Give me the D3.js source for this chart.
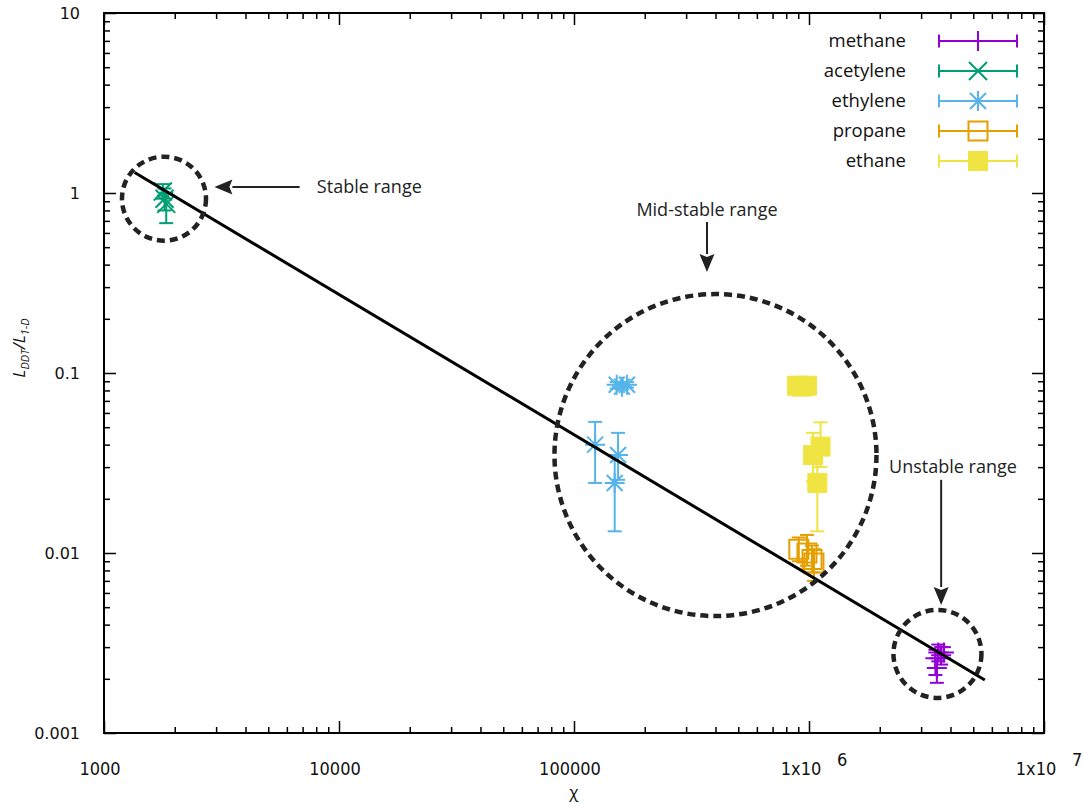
<!DOCTYPE html>
<html>
<head>
<meta charset="utf-8">
<script src="https://cdn.jsdelivr.net/npm/d3@7"></script>
<style>
  body { margin: 0; background: #fff; }
  svg { display: block; }
</style>
</head>
<body>
<div id="vis"></div>
<script>
// Series names and colours (gnuplot default palette)
const seriesNames = ["methane", "acetylene", "ethylene", "propane", "ethane"]
const seriesColors = ["#9400d3", "#009e73", "#56b4e9", "#e69f00", "#f0e442"]
const seriesMarkers = ["plus", "cross", "star", "openSquare", "filledSquare"]

// Values: x = chi, y = L_DDT / L_1-D, lo/hi = error bar ends
const methaneX = [3.45e6, 3.55e6, 3.65e6, 3.75e6, 3.5e6]
const methaneY = [0.0026, 0.0028, 0.0027, 0.0028, 0.0023]
const methaneLo = [0.0021, 0.0025, 0.0024, 0.0026, 0.0019]
const methaneHi = [0.0029, 0.0031, 0.0030, 0.0030, 0.0026]

const acetyleneX = [1780, 1810, 1840]
const acetyleneY = [1.02, 0.93, 0.87]
const acetyleneLo = [0.93, 0.80, 0.68]
const acetyleneHi = [1.12, 1.06, 1.0]

const ethyleneX = [1.52e5, 1.6e5, 1.68e5, 1.23e5, 1.54e5, 1.49e5]
const ethyleneY = [0.086, 0.084, 0.086, 0.040, 0.035, 0.0245]
const ethyleneLo = [0.082, 0.081, 0.083, 0.0245, 0.0255, 0.0132]
const ethyleneHi = [0.089, 0.088, 0.089, 0.0535, 0.0465, 0.035]

const propaneX = [9.05e5, 9.8e5, 1.03e6, 1.05e6]
const propaneY = [0.0105, 0.0100, 0.0092, 0.0088]
const propaneLo = [0.0090, 0.0085, 0.0078, 0.0070]
const propaneHi = [0.0122, 0.0126, 0.0110, 0.0105]

const ethaneX = [8.9e5, 9.3e5, 9.8e5, 1.12e6, 1.04e6, 1.085e6]
const ethaneY = [0.085, 0.084, 0.085, 0.039, 0.035, 0.0245]
const ethaneLo = [0.083, 0.082, 0.083, 0.030, 0.025, 0.0132]
const ethaneHi = [0.087, 0.086, 0.087, 0.0532, 0.0465, 0.035]

// Power-law fit (two end points)
const fitX = [1350, 5.6e6]
const fitY = [1.3, 0.00197]

// Axis ticks
const xTicks = [1e3, 1e4, 1e5, 1e6, 1e7]
const xTickLabels = ["1000", "10000", "100000", "1x10^6", "1x10^7"]
const yTicks = [0.001, 0.01, 0.1, 1, 10]
const yTickLabels = ["0.001", "0.01", "0.1", "1", "10"]

// Annotations (data coords)
const circleX = [1800, 4.0e5, 3.52e6]
const circleY = [0.93, 0.035, 0.00275]
const arrowLabels = ["Stable range", "Mid-stable range", "Unstable range"]

const data = [
    { x: methaneX, y: methaneY, lo: methaneLo, hi: methaneHi },
    { x: acetyleneX, y: acetyleneY, lo: acetyleneLo, hi: acetyleneHi },
    { x: ethyleneX, y: ethyleneY, lo: ethyleneLo, hi: ethyleneHi },
    { x: propaneX, y: propaneY, lo: propaneLo, hi: propaneHi },
    { x: ethaneX, y: ethaneY, lo: ethaneLo, hi: ethaneHi },
].map((s, i) => ({
    name: seriesNames[i],
    color: seriesColors[i],
    marker: seriesMarkers[i],
    points: s.x.map((x, j) => ({ x: x, y: s.y[j], lo: s.lo[j], hi: s.hi[j] }))
}))

const WIDTH = 1083, HEIGHT = 804
const M = { left: 104, right: 1044, top: 13, bottom: 733 }

const SVG = d3.select("#vis")
    .append("svg")
    .attr("width", WIDTH)
    .attr("height", HEIGHT)

const escalaX = d3.scaleLog().domain([1e3, 1e7]).range([M.left, M.right])
const escalaY = d3.scaleLog().domain([1e-3, 10]).range([M.bottom, M.top])

const xMinor = escalaX.ticks().filter(t => !xTicks.includes(t))
const yMinor = escalaY.ticks().filter(t => !yTicks.some(v => Math.abs(v - t) / v < 1e-9))

// Inward ticks on all four sides
function ticks(axisFn, scale, values, size, transform) {
    SVG.append("g")
        .attr("transform", transform)
        .call(axisFn(scale).tickValues(values).tickSize(size).tickFormat(""))
        .call(g => g.select(".domain").remove())
        .call(g => g.selectAll("line").attr("stroke", "#000").attr("stroke-width", 1.5))
}
ticks(d3.axisBottom, escalaX, xTicks, -12, `translate(0,${M.bottom})`)
ticks(d3.axisBottom, escalaX, xMinor, -6, `translate(0,${M.bottom})`)
ticks(d3.axisTop, escalaX, xTicks, -12, `translate(0,${M.top})`)
ticks(d3.axisTop, escalaX, xMinor, -6, `translate(0,${M.top})`)
ticks(d3.axisLeft, escalaY, yTicks, -12, `translate(${M.left},0)`)
ticks(d3.axisLeft, escalaY, yMinor, -6, `translate(${M.left},0)`)
ticks(d3.axisRight, escalaY, yTicks, -12, `translate(${M.right},0)`)
ticks(d3.axisRight, escalaY, yMinor, -6, `translate(${M.right},0)`)

SVG.append("rect")
    .attr("x", M.left).attr("y", M.top)
    .attr("width", M.right - M.left).attr("height", M.bottom - M.top)
    .attr("fill", "none").attr("stroke", "#000").attr("stroke-width", 2)

// X tick labels (with superscript for powers)
const xLab = SVG.append("g")
    .style("font-family", "'DejaVu Sans Condensed', 'DejaVu Sans', sans-serif")
    .style("font-size", "18px")
    .attr("fill", "#111")
xTicks.forEach((t, i) => {
    const parts = xTickLabels[i].split("^")
    if (parts.length === 1) {
        xLab.append("text")
            .attr("x", escalaX(t) - 4).attr("y", 775)
            .attr("text-anchor", "middle")
            .text(parts[0])
    } else {
        xLab.append("text")
            .attr("x", escalaX(t) - 8).attr("y", 775)
            .attr("text-anchor", "middle")
            .text(parts[0])
        xLab.append("text")
            .attr("x", escalaX(t) + 28).attr("y", 766)
            .attr("text-anchor", "start")
            .text(parts[1])
    }
})

// Y tick labels
SVG.append("g")
    .style("font-family", "'DejaVu Sans', sans-serif")
    .style("font-size", "16px")
    .attr("fill", "#111")
    .selectAll("text")
    .data(yTicks)
    .join("text")
    .attr("x", 80)
    .attr("y", d => escalaY(d))
    .attr("dy", "0.35em")
    .attr("text-anchor", "end")
    .text((d, i) => yTickLabels[i])

// Axis titles
SVG.append("text")
    .attr("x", (M.left + M.right) / 2).attr("y", 798)
    .attr("text-anchor", "middle")
    .style("font-family", "'Open Sans', sans-serif")
    .style("font-size", "17px")
    .attr("fill", "#111")
    .text("χ")

const yTitle = SVG.append("text")
    .attr("transform", "translate(25,348) rotate(-90)")
    .attr("text-anchor", "middle")
    .style("font-family", "'Open Sans', sans-serif")
    .style("font-style", "italic")
    .style("font-size", "17px")
    .attr("fill", "#111")
yTitle.append("tspan").text("L")
yTitle.append("tspan").attr("dy", 4).style("font-size", "11px").text("DDT")
yTitle.append("tspan").attr("dy", -4).text("/L")
yTitle.append("tspan").attr("dy", 4).style("font-size", "11px").text("1-D")

// Marker shapes
function markerPath(type) {
    if (type === "plus") return "M-10,0H10M0,-10V10"
    if (type === "cross") return "M-9,-9L9,9M-9,9L9,-9"
    if (type === "star") return "M-10,0H10M0,-10V10M-8,-8L8,8M-8,8L8,-8"
    return "M-9.5,-9.5H9.5V9.5H-9.5Z"
}

function drawMarker(g, type, color) {
    g.append("path")
        .attr("d", markerPath(type))
        .attr("fill", type === "filledSquare" ? color : "none")
        .attr("stroke", color)
        .attr("stroke-width", type === "filledSquare" ? 1 : 2)
}

// Series: error bars then markers
const plot = SVG.append("g")
data.forEach(s => {
    const g = plot.append("g")
    const bars = g.selectAll(".bar")
        .data(s.points)
        .join("g")
        .attr("class", "bar")
        .attr("stroke", s.color)
        .attr("stroke-width", 2)
    bars.append("line")
        .attr("x1", d => escalaX(d.x)).attr("x2", d => escalaX(d.x))
        .attr("y1", d => escalaY(d.lo)).attr("y2", d => escalaY(d.hi))
    bars.append("line")
        .attr("x1", d => escalaX(d.x) - 7).attr("x2", d => escalaX(d.x) + 7)
        .attr("y1", d => escalaY(d.lo)).attr("y2", d => escalaY(d.lo))
    bars.append("line")
        .attr("x1", d => escalaX(d.x) - 7).attr("x2", d => escalaX(d.x) + 7)
        .attr("y1", d => escalaY(d.hi)).attr("y2", d => escalaY(d.hi))

    g.selectAll(".pt")
        .data(s.points)
        .join("g")
        .attr("class", "pt")
        .attr("transform", d => `translate(${escalaX(d.x)},${escalaY(d.y)})`)
        .each(function () { drawMarker(d3.select(this), s.marker, s.color) })
})

// Fit line
SVG.append("path")
    .datum(fitX.map((x, i) => [x, fitY[i]]))
    .attr("d", d3.line().x(d => escalaX(d[0])).y(d => escalaY(d[1])))
    .attr("fill", "none")
    .attr("stroke", "#000")
    .attr("stroke-width", 3)

// Dashed circles
const circleR = [42, 161, 44]
SVG.selectAll(".ring")
    .data(circleX)
    .join("circle")
    .attr("class", "ring")
    .attr("cx", d => escalaX(d))
    .attr("cy", (d, i) => escalaY(circleY[i]))
    .attr("r", (d, i) => circleR[i])
    .attr("fill", "none")
    .attr("stroke", "#222")
    .attr("stroke-width", 4.5)
    .attr("stroke-dasharray", "8,5")

// Arrows with labels (tail, head, label anchor in data coords)
const arrows = [
    { tail: [6800, 1.08], head: [2950, 1.08], text: [8050, 1.08], anchor: "start" },
    { tail: [3.68e5, 0.69], head: [3.68e5, 0.364], text: [3.68e5, 0.805], anchor: "middle" },
    { tail: [3.65e6, 0.0255], head: [3.65e6, 0.00514], text: [4.1e6, 0.030], anchor: "middle" },
]
arrows.forEach((a, i) => {
    const x1 = escalaX(a.tail[0]), y1 = escalaY(a.tail[1])
    const x2 = escalaX(a.head[0]), y2 = escalaY(a.head[1])
    const ang = Math.atan2(y2 - y1, x2 - x1)
    const L = 18, W = 7.5
    const bx = x2 - L * Math.cos(ang), by = y2 - L * Math.sin(ang)
    SVG.append("line")
        .attr("x1", x1).attr("y1", y1).attr("x2", bx).attr("y2", by)
        .attr("stroke", "#222").attr("stroke-width", 2)
    SVG.append("path")
        .attr("d", `M${x2},${y2}L${bx - W * Math.sin(ang)},${by + W * Math.cos(ang)}L${bx + 3 * Math.cos(ang)},${by + 3 * Math.sin(ang)}L${bx + W * Math.sin(ang)},${by - W * Math.cos(ang)}Z`)
        .attr("fill", "#222")
    SVG.append("text")
        .attr("x", escalaX(a.text[0])).attr("y", escalaY(a.text[1]))
        .attr("dy", "0.35em")
        .attr("text-anchor", a.anchor)
        .style("font-family", "'Open Sans', sans-serif")
        .style("font-size", "18px")
        .attr("fill", "#222")
        .text(arrowLabels[i])
})

// Legend
const legend = SVG.append("g")
const rows = legend.selectAll(".row")
    .data(data)
    .join("g")
    .attr("class", "row")
    .attr("transform", (d, i) => `translate(0,${41 + i * 30})`)
rows.append("text")
    .attr("x", 906)
    .attr("dy", "0.35em")
    .attr("text-anchor", "end")
    .style("font-family", "'Open Sans', sans-serif")
    .style("font-size", "18.5px")
    .attr("fill", "#111")
    .text(d => d.name)
rows.each(function (d) {
    const r = d3.select(this)
    const g = r.append("g").attr("stroke", d.color).attr("stroke-width", 2)
    g.append("line").attr("x1", 939).attr("x2", 1017).attr("y1", 0).attr("y2", 0)
    g.append("line").attr("x1", 939).attr("x2", 939).attr("y1", -6.5).attr("y2", 6.5)
    g.append("line").attr("x1", 1017).attr("x2", 1017).attr("y1", -6.5).attr("y2", 6.5)
    drawMarker(r.append("g").attr("transform", "translate(978,0)"), d.marker, d.color)
})
</script>
</body>
</html>
